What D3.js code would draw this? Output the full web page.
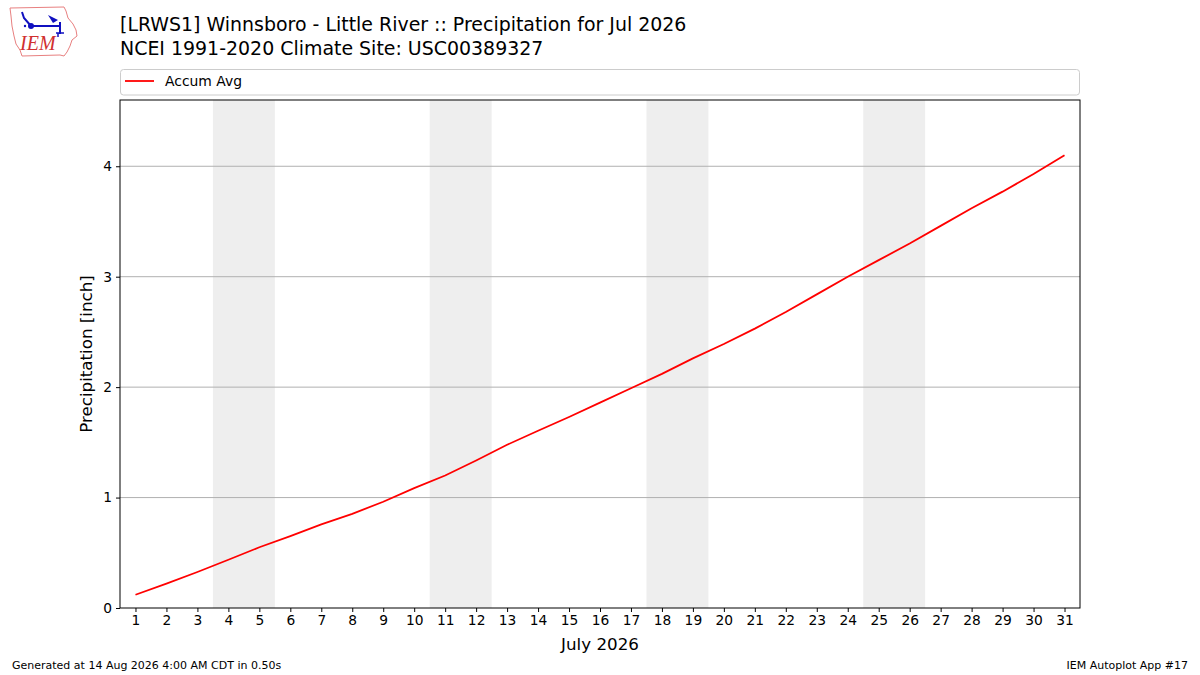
<!DOCTYPE html>
<html><head><meta charset="utf-8">
<script src="https://cdn.jsdelivr.net/npm/d3@7"></script>
<style>body{margin:0;background:#fff}svg{display:block;font-family:"DejaVu Sans",sans-serif}</style>
</head><body>
<svg id="c" width="1200" height="675"></svg>
<script>
const days = d3.range(1, 32);
const accumAvg = [0.12,0.22,0.326,0.437,0.55,0.65,0.757,0.853,0.962,1.086,1.20,1.336,1.478,1.605,1.73,1.86,1.99,2.12,2.26,2.39,2.53,2.68,2.84,3.00,3.15,3.30,3.46,3.62,3.77,3.93,4.10];
const weekendStarts = [4, 11, 18, 25];
const yTicks = [0,1,2,3,4];
const titleLines = ["[LRWS1] Winnsboro - Little River :: Precipitation for Jul 2026","NCEI 1991-2020 Climate Site: USC00389327"];
const legendLabel = "Accum Avg";
const xLabel = "July 2026";
const yLabel = "Precipitation [inch]";
const footerLeft = "Generated at 14 Aug 2026 4:00 AM CDT in 0.50s";
const footerRight = "IEM Autoplot App #17";

const svg = d3.select("#c");
const L = 120, R = 1080, T = 100, B = 608;
const x = d3.scaleLinear().domain([0.5, 31.5]).range([L, R]);
const y = d3.scaleLinear().domain([0, 4.6]).range([B, T]);

// weekend bands
svg.append("g").selectAll("rect").data(weekendStarts).join("rect")
  .attr("x", d => x(d - 0.5)).attr("width", d => x(d + 1.5) - x(d - 0.5))
  .attr("y", T).attr("height", B - T).attr("fill", "#eeeeee");

// grid
svg.append("g").selectAll("line").data(yTicks.filter(d => d > 0)).join("line")
  .attr("x1", L).attr("x2", R).attr("y1", d => y(d)).attr("y2", d => y(d))
  .attr("stroke", "#b0b0b0").attr("stroke-width", 1);

// line
svg.append("path").datum(days.map((d, i) => [d, accumAvg[i]]))
  .attr("d", d3.line().x(d => x(d[0])).y(d => y(d[1])))
  .attr("fill", "none").attr("stroke", "#ff0000").attr("stroke-width", 1.8);

// frame
svg.append("rect").attr("x", L).attr("y", T).attr("width", R - L).attr("height", B - T)
  .attr("fill", "none").attr("stroke", "#000").attr("stroke-width", 1);

// axes
const xa = svg.append("g").attr("transform", `translate(0,${B})`)
  .call(d3.axisBottom(x).tickValues(days).tickSize(4).tickPadding(3).tickFormat(d3.format("d")));
const ya = svg.append("g").attr("transform", `translate(${L},0)`)
  .call(d3.axisLeft(y).tickValues(yTicks).tickSize(4).tickPadding(4).tickFormat(d3.format("d")));
[xa, ya].forEach(a => {
  a.select(".domain").remove();
  a.selectAll("text").attr("font-size", 13.8).attr("font-family", "DejaVu Sans").attr("fill", "#000");
  a.selectAll("line").attr("stroke", "#000");
});

// axis labels
svg.append("text").attr("x", (L + R) / 2).attr("y", 650).attr("text-anchor", "middle")
  .attr("font-size", 16.7).text(xLabel);
svg.append("text").attr("transform", `translate(92,${(T + B) / 2}) rotate(-90)`).attr("text-anchor", "middle")
  .attr("font-size", 16.7).text(yLabel);

// title
svg.append("g").selectAll("text").data(titleLines).join("text")
  .attr("x", 120).attr("y", (d, i) => 31 + i * 23.5).attr("font-size", 18.95).text(d => d);

// legend
svg.append("rect").attr("x", 120.5).attr("y", 69.5).attr("width", 959).attr("height", 25.5)
  .attr("rx", 3).attr("fill", "#fff").attr("stroke", "#cccccc");
svg.append("line").attr("x1", 125).attr("x2", 154).attr("y1", 81).attr("y2", 81)
  .attr("stroke", "#ff0000").attr("stroke-width", 1.8);
svg.append("text").attr("x", 165).attr("y", 86).attr("font-size", 13.9).text(legendLabel);

// footer
svg.append("text").attr("x", 12).attr("y", 669).attr("font-size", 11).text(footerLeft);
svg.append("text").attr("x", 1188).attr("y", 669).attr("text-anchor", "end").attr("font-size", 11).text(footerRight);

// logo (approximation)
const lg = svg.append("g");
lg.append("path").attr("d", "M10,8 L64,7 L66,11 L68,18 L73,24 L76,30 L77,36 L72,40 L70,46 L67,52 L64,56 L60,55 L22,56 L20,50 L16,44 L14,36 L12,26 L11,16 Z")
  .attr("fill", "#fff").attr("stroke", "#e88080").attr("stroke-width", 1);
lg.append("path").attr("d", "M31,26 L60,26 M60,22 L60,34 M22,12 L24,18 L31,26")
  .attr("stroke", "#1010c0").attr("stroke-width", 2).attr("fill", "none");
lg.append("circle").attr("cx", 31).attr("cy", 26).attr("r", 3).attr("fill", "#1010c0");
lg.append("circle").attr("cx", 25).attr("cy", 26).attr("r", 1.2).attr("fill", "#1010c0");
lg.append("path").attr("d", "M48,15 L58,20 L53,23 Z").attr("fill", "#1010c0");
lg.append("path").attr("d", "M56,33 L64,33 M58,33 L58,37").attr("stroke", "#1010c0").attr("stroke-width", 1.5);
lg.append("text").attr("x", 20).attr("y", 50).attr("font-family", "Liberation Serif").attr("font-style", "italic")
  .attr("font-size", 20).attr("fill", "#d03030").text("IEM");
</script>
</body></html>
